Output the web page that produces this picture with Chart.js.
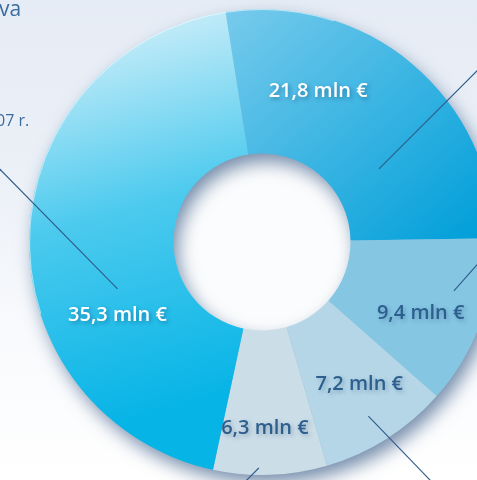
<!DOCTYPE html>
<html><head><meta charset="utf-8">
<script src="https://cdn.jsdelivr.net/npm/chart.js@4"></script>
<style>
html,body{margin:0;padding:0;width:477px;height:480px;overflow:hidden;
background:linear-gradient(180deg,#e6ecf5 0%,#ebf0f7 35%,#f7f9fc 65%,#ffffff 100%);}
#wrap{position:absolute;left:0;top:0;width:524px;height:484px;}
</style></head><body><div id="wrap"><canvas id="c"></canvas></div>
<script>
// ---- data ----
const categories = ['Kategoria 1','Kategoria 2','Kategoria 3','Kategoria 4','Kategoria 5'];
const values = [21.8, 9.4, 7.2, 6.3, 35.3];
const valueLabels = ['21,8 mln €','9,4 mln €','7,2 mln €','6,3 mln €','35,3 mln €'];

// ---- styling ----
const flatColors = ['#2cb0e2','#85c6e3','#b5d6e7','#cbdde7','#3cc2ec'];
const labelColors = ['#ffffff','#2d5f8e','#2d5f8e','#2d5f8e','#ffffff'];
// label placement inside each arc: [fraction of arc angle, fraction of ring band]
const labelPlace = [[0.30,0.50],[0.59,0.59],[0.44,0.58],[0.54,0.68],[0.32,0.51]];
// leader lines: [polar angle deg, radius fraction of outer radius, direction deg]
const leaders = [[-32,0.592,-45],[14.3,0.85,-48.5],[58.6,0.876,46],[90.8,0.97,135],[162,0.652,225.5]];

function segColor(ctx){
  const i = ctx.dataIndex;
  const chart = ctx.chart;
  const a = chart.chartArea;
  if(!a || !isFinite(a.left) || a.right<=a.left) return flatColors[i];
  const cx = (a.left+a.right)/2, cy = (a.top+a.bottom)/2;
  const R = Math.min(a.right-a.left, a.bottom-a.top)/2;
  const c = chart.ctx;
  if(i===0){
    const g = c.createLinearGradient(cx-0.17*R, cy-R, cx+0.8*R, cy+0.1*R);
    g.addColorStop(0,'#78cbec'); g.addColorStop(1,'#009fd9');
    return g;
  }
  if(i===4){
    const g = c.createLinearGradient(cx-0.55*R, cy-0.9*R, cx-0.12*R, cy+0.65*R);
    g.addColorStop(0,'#c2ebf8'); g.addColorStop(0.45,'#4ccaee'); g.addColorStop(1,'#06b4e6');
    return g;
  }
  return flatColors[i];
}

const ringShadow = {
  id:'ringShadow',
  beforeDatasetsDraw(chart){
    const el = chart.getDatasetMeta(0).data[0]; if(!el || !isFinite(el.x)) return;
    const c = chart.ctx, x=el.x, y=el.y, R=el.outerRadius, r=el.innerRadius;
    c.save();
    c.fillStyle='#fbfcfd';
    c.beginPath(); c.arc(x,y,r+2,0,Math.PI*2); c.fill();
    c.shadowColor='rgba(25,65,115,0.6)'; c.shadowBlur=18; c.shadowOffsetX=5; c.shadowOffsetY=9;
    c.fillStyle='#6fb0d8';
    c.beginPath(); c.arc(x,y,R-1,0,Math.PI*2); c.arc(x,y,r+1,0,Math.PI*2,true); c.fill('evenodd');
    c.restore();
  },
  afterDatasetsDraw(chart){
    const meta = chart.getDatasetMeta(0);
    const el0 = meta.data[0]; if(!el0 || !isFinite(el0.x)) return;
    const c = chart.ctx, x=el0.x, y=el0.y, R=el0.outerRadius;
    c.save();
    c.strokeStyle='rgba(255,255,255,0.55)'; c.lineWidth=1;
    c.beginPath(); c.arc(x,y,R-0.5,Math.PI*0.9,Math.PI*1.6); c.stroke();
    c.strokeStyle='#2f5c8a'; c.lineWidth=1.1;
    leaders.forEach(([a,rf,d])=>{
      const ar=a*Math.PI/180, dr=d*Math.PI/180;
      const sx=x+Math.cos(ar)*rf*R, sy=y+Math.sin(ar)*rf*R;
      c.beginPath(); c.moveTo(sx,sy); c.lineTo(sx+Math.cos(dr)*400, sy+Math.sin(dr)*400); c.stroke();
    });
    c.font='600 20px "Open Sans", sans-serif';
    c.textAlign='center'; c.textBaseline='middle';
    meta.data.forEach((el,i)=>{
      const [fa,fr]=labelPlace[i];
      const ang = el.startAngle + (el.endAngle-el.startAngle)*fa;
      const rad = el.innerRadius + (el.outerRadius-el.innerRadius)*fr;
      const lx = el.x+Math.cos(ang)*rad, ly = el.y+Math.sin(ang)*rad;
      c.shadowColor = labelColors[i]==='#ffffff' ? 'rgba(0,60,110,0.45)' : 'rgba(40,80,120,0.35)';
      c.shadowBlur=4; c.shadowOffsetX=2; c.shadowOffsetY=2;
      c.fillStyle=labelColors[i];
      c.fillText(valueLabels[i], lx, ly);
    });
    c.restore();
  },
  afterDraw(chart){
    const c = chart.ctx;
    c.save();
    c.fillStyle='#3a6c9e';
    c.textBaseline='alphabetic'; c.textAlign='left';
    c.font='400 21px "Open Sans", sans-serif';
    c.fillText('va', -1, 16);
    c.font='400 16px "Open Sans", sans-serif';
    c.fillText('07 r.', -4, 126);
    c.restore();
  }
};

new Chart(document.getElementById('c'), {
  type:'doughnut',
  data:{ labels:categories, datasets:[{ data:values, backgroundColor:segColor, borderWidth:0, hoverOffset:0 }] },
  options:{
    responsive:true, maintainAspectRatio:false, animation:false,
    rotation:-9, cutout:'38%',
    layout:{ padding:{left:29,right:29,top:9,bottom:9} },
    plugins:{ legend:{display:false}, tooltip:{enabled:false} }
  },
  plugins:[ringShadow]
});
</script></body></html>
